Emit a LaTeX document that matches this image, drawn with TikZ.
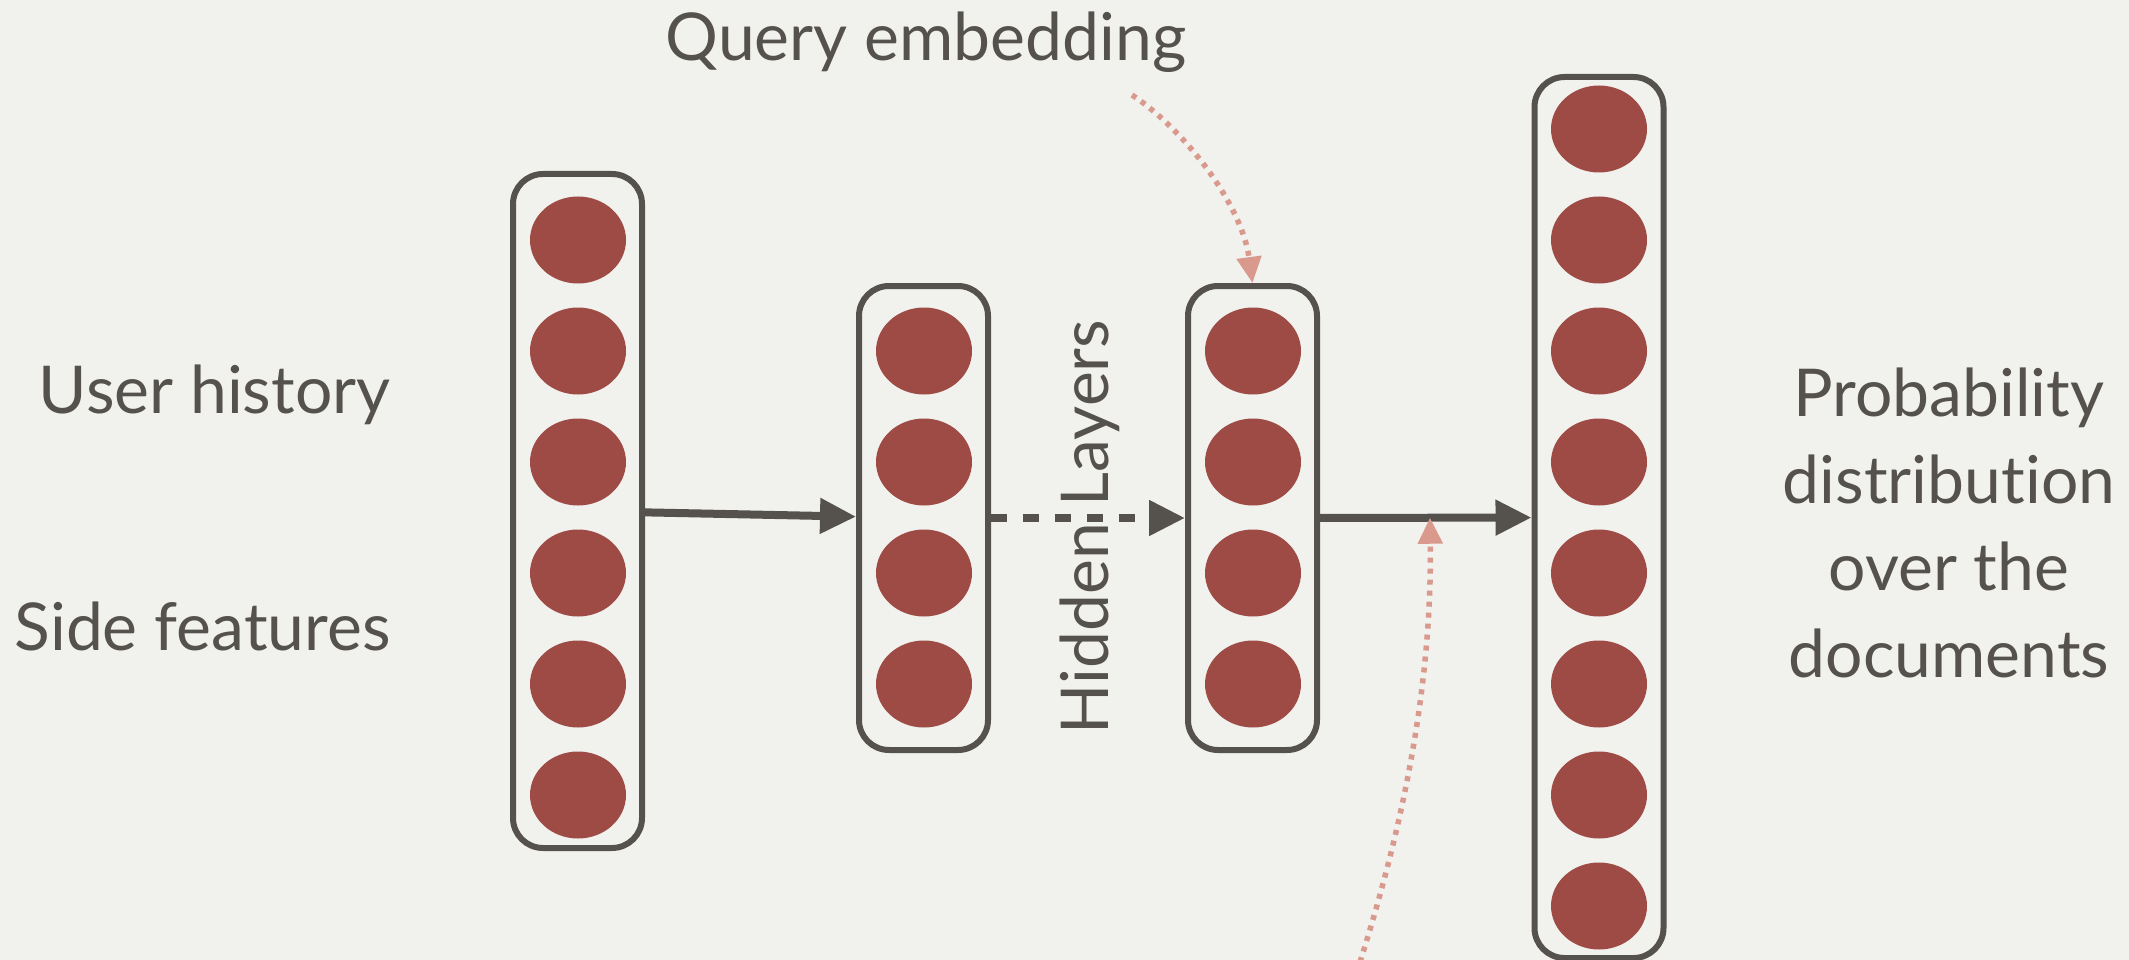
\documentclass[tikz,border=0pt]{standalone}
\usepackage{fontspec}
\setmainfont{Lato}[Ligatures=NoCommon]
\usetikzlibrary{arrows.meta,positioning,shapes.geometric}

\definecolor{paper}{HTML}{F1F1EE}
\definecolor{ink}{HTML}{55524D}
\definecolor{unitred}{HTML}{9E4B46}
\definecolor{hintred}{HTML}{D9998C}

\begin{document}
\begin{tikzpicture}[x=1pt,y=1pt,node distance=111pt,text=ink,
                    font=\fontsize{66}{87}\selectfont,
                    layer/.style={draw=ink,line width=6pt,rounded corners=30pt,
                                  minimum width=129pt,inner sep=0pt},
                    unit/.style={ellipse,fill=unitred,minimum width=96pt,
                                 minimum height=87pt,inner sep=0pt},
                    flow/.style={-{Triangle[length=36pt,width=34pt]},draw=ink,
                                 line width=8pt},
                    hint/.style={-{Triangle[length=26pt,width=24pt]},draw=hintred,
                                 line width=5.5pt,dash pattern=on 5pt off 6pt}]
  \fill[paper] (0,0) rectangle (2129,-960);
  \useasboundingbox (0,0) rectangle (2129,-960);

  % input layer
  \node[layer,minimum height=674pt] (L1) at (577.5,-511) {};
  \node[unit] (a1) at (578,-240) {};
  \node[unit] (a2) [below of=a1] {};
  \node[unit] (a3) [below of=a2] {};
  \node[unit] (a4) [below of=a3] {};
  \node[unit] (a5) [below of=a4] {};
  \node[unit] (a6) [below of=a5] {};

  % hidden layers
  \node[layer,minimum height=464pt] (L2) at (923.5,-518) {};
  \node[unit] (b1) at (924,-351) {};
  \node[unit] (b2) [below of=b1] {};
  \node[unit] (b3) [below of=b2] {};
  \node[unit] (b4) [below of=b3] {};

  \node[layer,minimum height=464pt] (L3) at (1252.5,-518) {};
  \node[unit] (c1) at (1253,-351) {};
  \node[unit] (c2) [below of=c1] {};
  \node[unit] (c3) [below of=c2] {};
  \node[unit] (c4) [below of=c3] {};

  % output layer
  \node[layer,minimum height=881pt] (L4) at (1599,-517.5) {};
  \node[unit] (d1) at (1599,-129) {};
  \node[unit] (d2) [below of=d1] {};
  \node[unit] (d3) [below of=d2] {};
  \node[unit] (d4) [below of=d3] {};
  \node[unit] (d5) [below of=d4] {};
  \node[unit] (d6) [below of=d5] {};
  \node[unit] (d7) [below of=d6] {};
  \node[unit] (d8) [below of=d7] {};

  \node[anchor=base east] (user) at (394,-413) {User history};
  \node[anchor=base east] (side) at (394,-650) {Side features};
  \node[anchor=base] (query) at (926,-61) {Query embedding};
  \node[anchor=base,rotate=90] (hidden) at (1108,-527) {Hidden Layers};
  \node[anchor=base,align=center] (prob) at (1949,-677)
       {Probability\\distribution\\over the\\documents};

  \draw[flow] (L1) -- (L2);
  \draw[flow,dash pattern=on 16pt off 16pt] (L2) -- (L3);
  \draw[flow] (L3) -- (L4) coordinate[pos=0.52] (tap);

  \coordinate (qstart) at (1132,-95);
  \coordinate (hstart) at (1360,-962);
  \draw[hint] (qstart) .. controls (1185,-130) and (1242,-205) .. (L3.north);
  \draw[hint] (hstart) .. controls (1405,-820) and (1432,-680) .. (tap);
\end{tikzpicture}
\end{document}
